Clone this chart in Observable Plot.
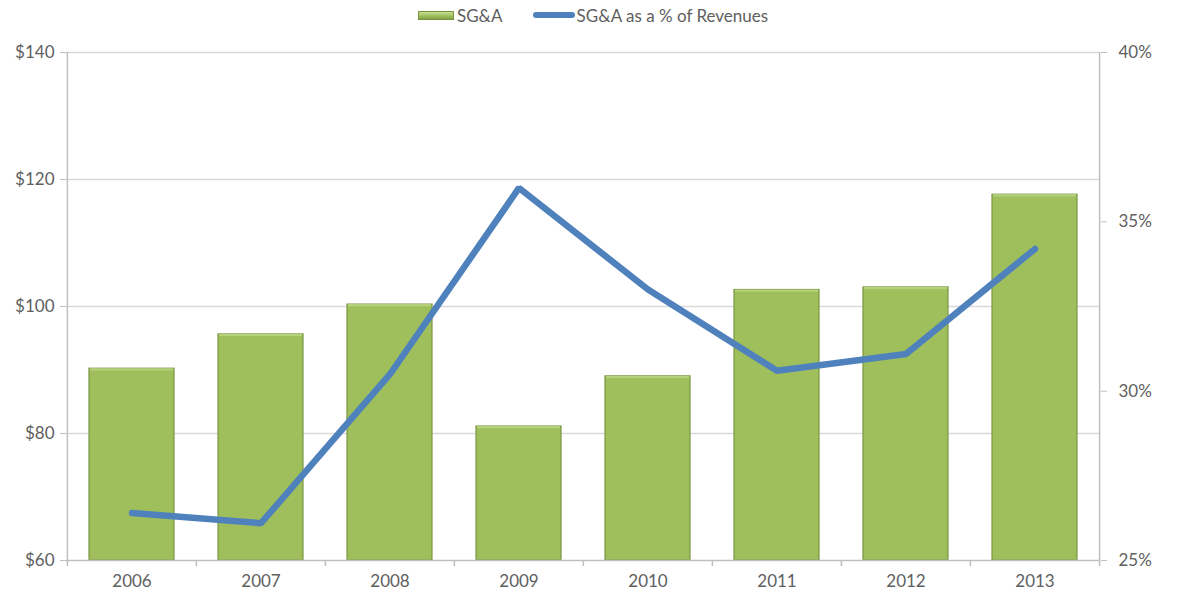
<!DOCTYPE html>
<html>
<head>
<meta charset="utf-8">
<script src="https://cdn.jsdelivr.net/npm/d3@7"></script>
<script src="https://cdn.jsdelivr.net/npm/@observablehq/plot@0.6"></script>
<style>
  html, body { margin: 0; padding: 0; background: #fff; }
  body { width: 1178px; height: 598px; overflow: hidden; font-family: Lato, "Open Sans", sans-serif; }
  #legend { height: 30px; display: flex; justify-content: center; align-items: center; gap: 30px; font-size: 17px; color: #606060; padding-left: 8px; }
  .item { display: flex; align-items: center; }
  .sw-bar { width: 36px; height: 9px; background: linear-gradient(#c9de98, #a0c05e 55%, #86a24a); border: 1px solid #76923c; box-sizing: border-box; margin-right: 3px; }
  .sw-line { width: 42px; height: 6px; border-radius: 3px; background: #4f81bd; margin-right: 2px; }
</style>
</head>
<body>
<div id="legend">
  <div class="item"><span class="sw-bar"></span><span>SG&amp;A</span></div>
  <div class="item"><span class="sw-line"></span><span>SG&amp;A as a % of Revenues</span></div>
</div>
<div id="chart"></div>
<script>
const years = ["2006", "2007", "2008", "2009", "2010", "2011", "2012", "2013"];
const sga = [90.2, 95.6, 100.3, 81.1, 89.0, 102.6, 103.0, 117.6];
const sgaPct = [26.4, 26.1, 30.5, 36.0, 33.0, 30.6, 31.1, 34.2];
const leftTicks = [60, 80, 100, 120, 140];
const rightTicks = [25, 30, 35, 40];

// secondary axis mapping: 25%..40% onto $60..$140
const yMin = 60, yMax = 140, pMin = 25, pMax = 40;
const pctToY = p => yMin + (p - pMin) / (pMax - pMin) * (yMax - yMin);
const yToPct = v => pMin + (v - yMin) / (yMax - yMin) * (pMax - pMin);

const data = years.map((year, i) => ({year, sga: sga[i], pct: sgaPct[i], pctY: pctToY(sgaPct[i])}));

const W = 1178, H = 568, ML = 66, MR = 78;
const step = (W - ML - MR) / years.length;
const fontSize = 17;

const chart = Plot.plot({
  width: W,
  height: H,
  marginTop: 22,
  marginBottom: 38,
  marginLeft: ML,
  marginRight: MR,
  style: {fontFamily: "Lato, 'Open Sans', sans-serif", fontSize: fontSize + "px", color: "#606060", background: "#fff"},
  x: {domain: years, paddingInner: 0.34, paddingOuter: 0.17, label: null},
  y: {domain: [yMin, yMax], label: null},
  marks: [
    Plot.gridY(leftTicks.slice(1), {stroke: "#d9d9d9", strokeOpacity: 1, strokeWidth: 1.5}),
    Plot.barY(data, {x: "year", y1: yMin, y2: "sga", fill: "#9fbf5c", stroke: "#7a9642", strokeWidth: 1.2}),
    Plot.barY(data, {x: "year", y1: d => d.sga - 0.35, y2: "sga", fill: "#b7d27c", insetLeft: 1, insetRight: 1}),
    Plot.ruleY([yMin], {stroke: "#bfbfbf", strokeWidth: 1.5}),
    Plot.ruleX([years[0]], {x: d => d, y1: yMin, y2: yMax, dx: -step / 2, stroke: "#bfbfbf", strokeWidth: 1.5}),
    Plot.ruleX([years[years.length - 1]], {x: d => d, y1: yMin, y2: yMax, dx: step / 2, stroke: "#bfbfbf", strokeWidth: 1.5}),
    Plot.ruleX(years, {x: d => d, y1: yMin, y2: yMin, insetBottom: -6, dx: -step / 2, stroke: "#bfbfbf", strokeWidth: 1.5}),
    Plot.ruleX([years[years.length - 1]], {x: d => d, y1: yMin, y2: yMin, insetBottom: -6, dx: step / 2, stroke: "#bfbfbf", strokeWidth: 1.5}),
    Plot.axisY(leftTicks, {anchor: "left", tickFormat: d => "$" + d, tickSize: 6, tickPadding: 6, stroke: "#bfbfbf", fill: "#606060", fontSize}),
    Plot.axisY(rightTicks.map(pctToY), {anchor: "right", tickFormat: v => Math.round(yToPct(v)) + "%", tickSize: 6, tickPadding: 12, stroke: "#bfbfbf", fill: "#606060", fontSize}),
    Plot.axisX(years, {anchor: "bottom", tickSize: 0, tickPadding: 14, fill: "#606060", fontSize}),
    Plot.line(data, {x: "year", y: "pctY", stroke: "#4f81bd", strokeWidth: 6.5, strokeLinejoin: "miter", strokeLinecap: "round"})
  ]
});
document.getElementById("chart").appendChild(chart);
</script>
</body>
</html>
